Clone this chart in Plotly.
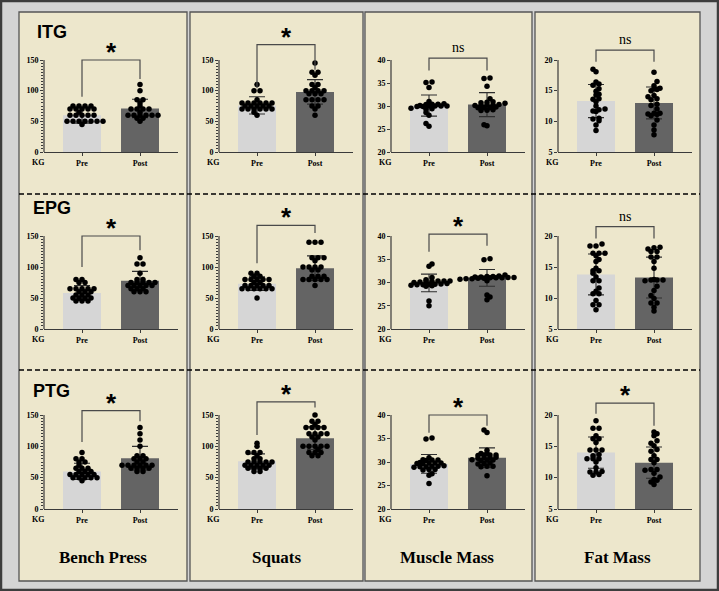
import numpy as np
import plotly.graph_objects as go

GROUPS = ["ITG", "EPG", "PTG"]
MEASURES = ["Bench Press", "Squats", "Muscle Mass", "Fat Mass"]
CONDITIONS = ["Pre", "Post"]

BENCH_TICKS = [0, 50, 100, 150]
SQUAT_TICKS = [0, 50, 100, 150]
MUSCLE_TICKS = [20, 25, 30, 35, 40]
FAT_TICKS = [5, 10, 15, 20]

# ---- individual values (kg) ----
ITG_BENCH_PRE = [75, 75, 75, 75, 70, 70, 70, 70, 70, 65, 60, 60, 60, 60, 60, 50, 50, 50, 50, 50, 50, 50, 45]
ITG_BENCH_POST = [110, 100, 85, 85, 80, 75, 70, 70, 70, 70, 65, 60, 60, 60, 60, 60, 60, 55, 55, 50]
ITG_SQUAT_PRE = [110, 100, 100, 85, 80, 80, 80, 80, 80, 80, 75, 75, 75, 75, 75, 70, 70, 70, 70, 70, 70, 65, 60]
ITG_SQUAT_POST = [145, 130, 130, 125, 110, 110, 105, 100, 100, 100, 100, 95, 95, 95, 85, 85, 85, 85, 75, 75, 70, 60]
ITG_MUSCLE_PRE = [35.2, 35.1, 34.0, 31.0, 30.5, 30.4, 30.4, 30.3, 30.1, 30.0, 30.0, 30.0, 30.0, 29.9, 29.9, 29.5, 29.4, 29.3, 28.6, 28.0, 26.2, 25.6]
ITG_MUSCLE_POST = [36.1, 36.0, 34.3, 31.6, 30.9, 30.8, 30.7, 30.6, 30.3, 30.2, 30.2, 30.1, 30.1, 29.8, 29.7, 29.7, 29.6, 29.2, 29.1, 29.0, 25.9, 25.7]
ITG_FAT_PRE = [18.5, 18.1, 16.4, 16.1, 15.9, 15.3, 14.9, 14.4, 14.3, 13.7, 13.6, 13.2, 12.5, 12.0, 11.9, 11.7, 11.6, 10.5, 10.4, 10.1, 9.4, 8.5]
ITG_FAT_POST = [18.0, 16.5, 15.8, 15.4, 15.3, 15.2, 15.0, 14.2, 14.0, 13.7, 13.5, 12.8, 12.6, 12.0, 11.3, 11.3, 11.2, 11.1, 10.9, 10.2, 9.4, 8.6, 7.8]

EPG_BENCH_PRE = [80, 80, 75, 75, 65, 65, 65, 65, 65, 60, 60, 60, 55, 55, 55, 50, 50, 50, 50, 45, 45, 45]
EPG_BENCH_POST = [115, 105, 105, 90, 80, 80, 75, 75, 75, 75, 75, 70, 70, 70, 70, 70, 65, 65, 65, 60, 60, 60]
EPG_SQUAT_PRE = [90, 90, 85, 85, 80, 80, 80, 80, 80, 75, 75, 70, 70, 70, 70, 70, 65, 65, 65, 65, 65, 65, 50]
EPG_SQUAT_POST = [140, 140, 140, 115, 115, 115, 110, 100, 100, 100, 100, 95, 95, 85, 85, 85, 80, 80, 80, 80, 80, 70]
EPG_MUSCLE_PRE = [34.0, 33.5, 31.1, 30.6, 30.3, 30.3, 30.3, 30.2, 30.2, 30.1, 30.0, 29.8, 29.7, 29.6, 29.6, 29.5, 29.5, 29.4, 29.3, 29.2, 26.0, 25.0]
EPG_MUSCLE_POST = [35.1, 34.9, 31.6, 31.4, 31.3, 31.3, 31.2, 31.2, 31.1, 31.1, 31.0, 31.0, 31.0, 30.9, 30.9, 30.8, 30.8, 30.7, 30.4, 27.3, 26.9, 26.3]
EPG_FAT_PRE = [18.7, 18.4, 18.4, 17.2, 17.2, 17.2, 16.8, 16.2, 15.9, 14.8, 14.4, 14.4, 14.0, 13.4, 12.8, 12.8, 11.6, 11.1, 10.7, 10.7, 9.6, 8.9, 8.9, 8.1]
EPG_FAT_POST = [18.2, 18.1, 17.9, 17.5, 17.5, 16.6, 16.6, 15.9, 14.8, 13.0, 12.9, 12.9, 12.9, 12.8, 11.9, 11.2, 10.4, 9.9, 9.2, 9.2, 8.5, 7.9]

PTG_BENCH_PRE = [90, 80, 80, 75, 75, 70, 65, 65, 65, 60, 60, 60, 55, 55, 55, 55, 55, 50, 50, 50, 50, 50, 45]
PTG_BENCH_POST = [130, 120, 110, 100, 85, 85, 80, 80, 80, 75, 75, 70, 70, 70, 70, 70, 70, 65, 65, 65, 65, 60, 60]
PTG_SQUAT_PRE = [105, 100, 90, 90, 90, 85, 80, 80, 75, 75, 75, 75, 75, 70, 70, 70, 70, 70, 65, 65, 65, 65, 60, 60]
PTG_SQUAT_POST = [150, 140, 140, 135, 130, 130, 130, 130, 120, 120, 120, 120, 115, 115, 110, 100, 100, 100, 100, 100, 95, 90, 90, 90, 85, 85]
PTG_MUSCLE_PRE = [35.1, 34.9, 30.9, 30.5, 30.4, 30.4, 30.3, 29.9, 29.8, 29.8, 29.8, 29.7, 29.7, 29.2, 29.1, 29.1, 29.0, 29.0, 28.9, 28.4, 28.4, 28.3, 27.5, 27.2, 25.4]
PTG_MUSCLE_POST = [36.8, 36.3, 32.5, 31.8, 31.8, 31.5, 31.5, 31.5, 31.4, 31.0, 30.9, 30.9, 30.8, 30.5, 30.4, 30.4, 30.3, 29.8, 29.7, 29.6, 29.1, 29.1, 29.0, 27.1]
PTG_FAT_PRE = [19.1, 17.9, 17.9, 16.7, 16.2, 16.2, 15.6, 14.4, 14.4, 14.4, 13.7, 13.5, 13.0, 13.0, 13.0, 12.5, 11.6, 11.0, 10.9, 10.9, 10.5, 10.4]
PTG_FAT_POST = [17.3, 17.0, 16.7, 15.9, 15.5, 15.1, 14.5, 14.2, 13.5, 12.9, 12.9, 12.4, 11.3, 11.3, 11.2, 10.7, 10.1, 9.7, 9.6, 9.3, 8.9]

# ---- bar means and SD (per measure: bench, squats, muscle, fat) ----
ITG_MEAN_PRE = [60, 76, 30.1, 13.3]
ITG_MEAN_POST = [71, 98, 30.3, 13.0]
ITG_SD_PRE = [13, 14, 2.3, 2.7]
ITG_SD_POST = [15, 20, 2.6, 2.6]
EPG_MEAN_PRE = [58, 73, 29.9, 13.8]
EPG_MEAN_POST = [78, 98, 31.0, 13.3]
EPG_SD_PRE = [12, 11, 1.9, 3.3]
EPG_SD_POST = [15, 20, 1.8, 3.3]
PTG_MEAN_PRE = [60, 76, 29.6, 14.0]
PTG_MEAN_POST = [81, 113, 30.9, 12.4]
PTG_SD_PRE = [13, 12, 2.0, 2.5]
PTG_SD_POST = [19, 18, 2.1, 2.5]

ITG_SIG = ["*", "*", "ns", "ns"]
EPG_SIG = ["*", "*", "*", "ns"]
PTG_SIG = ["*", "*", "*", "*"]

# bracket levels (top, left leg end, right leg end)
ITG_BRACKETS = [(150, 90, 119), (175, 104, 134), (40.4, 37.7, 37.7), (21.6, 19.7, 19.7)]
EPG_BRACKETS = [(150, 100, 127), (167, 106, 155), (40.4, 36.6, 37.9), (21.5, 19.6, 19.6)]
PTG_BRACKETS = [(157, 107, 140), (171, 118, 162), (40.0, 36.2, 37.7), (21.9, 20.2, 18.3)]

TICKS = [BENCH_TICKS, SQUAT_TICKS, MUSCLE_TICKS, FAT_TICKS]
DATA = {
    "ITG": dict(pre=[ITG_BENCH_PRE, ITG_SQUAT_PRE, ITG_MUSCLE_PRE, ITG_FAT_PRE],
                post=[ITG_BENCH_POST, ITG_SQUAT_POST, ITG_MUSCLE_POST, ITG_FAT_POST],
                mpre=ITG_MEAN_PRE, mpost=ITG_MEAN_POST, spre=ITG_SD_PRE, spost=ITG_SD_POST,
                sig=ITG_SIG, br=ITG_BRACKETS),
    "EPG": dict(pre=[EPG_BENCH_PRE, EPG_SQUAT_PRE, EPG_MUSCLE_PRE, EPG_FAT_PRE],
                post=[EPG_BENCH_POST, EPG_SQUAT_POST, EPG_MUSCLE_POST, EPG_FAT_POST],
                mpre=EPG_MEAN_PRE, mpost=EPG_MEAN_POST, spre=EPG_SD_PRE, spost=EPG_SD_POST,
                sig=EPG_SIG, br=EPG_BRACKETS),
    "PTG": dict(pre=[PTG_BENCH_PRE, PTG_SQUAT_PRE, PTG_MUSCLE_PRE, PTG_FAT_PRE],
                post=[PTG_BENCH_POST, PTG_SQUAT_POST, PTG_MUSCLE_POST, PTG_FAT_POST],
                mpre=PTG_MEAN_PRE, mpost=PTG_MEAN_POST, spre=PTG_SD_PRE, spost=PTG_SD_POST,
                sig=PTG_SIG, br=PTG_BRACKETS),
}

# ---- layout geometry (reference pixels on a 719x591 canvas) ----
W, H = 719, 591
FIG_H = 596
COL_X = [(44, 178), (219, 353), (391, 525), (558, 692)]
ROW_Y = [(152, 60), (329, 236), (509, 415)]
EXTRA = 30
XR = [-0.655, 1.655]
BOXES = [(19, 187), (190, 363), (365, 532), (535, 700)]
BOX_Y = (12, 581)
DASH_Y = [194, 370]
ROW_LABEL_POS = [(35, 32), (31, 208), (31, 391)]
COL_TITLE_X = [103, 277, 447, 617]
COL_TITLE_Y = 557

AX = "#3a3a3a"
SERIF = "Liberation Serif, Times New Roman, serif"
SANS = "Liberation Sans, Arial, sans-serif"


def px(x):
    return x / W


def py(y):
    return 1 - y / H


def dot_offsets(values, ppx, ppy, row_h=2.8, step=6.0):
    """Scatter-dot-plot layout: bin values into rows, centre each row horizontally."""
    vals = np.asarray(values, dtype=float)
    bins = np.round(vals * ppy / row_h).astype(int)
    out = np.zeros(len(vals))
    shifted = {}
    for k in sorted(set(bins.tolist())):
        idx = [i for i in np.argsort(vals, kind="stable") if bins[i] == k]
        n = len(idx)
        shift = 0.0
        prev = k - 1
        if prev in shifted:
            pn, psh = shifted[prev]
            if pn % 2 == n % 2 and psh == 0.0:
                shift = step / 2 * (1 if k % 2 else -1)
        shifted[k] = (n, shift)
        for j, i in enumerate(idx):
            out[i] = ((j - (n - 1) / 2) * step + shift) / ppx
    return out


fig = go.Figure()
shapes = []
annotations = []
layout = {}

# outer frame and boxes
shapes.append(dict(type="rect", xref="paper", yref="paper", x0=px(1), x1=px(718), y0=py(590), y1=py(1),
                   line=dict(color="#3d3d3d", width=2.5), fillcolor="rgba(0,0,0,0)", layer="below"))
for bx0, bx1 in BOXES:
    shapes.append(dict(type="rect", xref="paper", yref="paper", x0=px(bx0), x1=px(bx1),
                       y0=py(BOX_Y[1]), y1=py(BOX_Y[0]), fillcolor="#ede7cc",
                       line=dict(color="#555555", width=1.3), layer="below"))
for dy in DASH_Y:
    shapes.append(dict(type="line", xref="paper", yref="paper", x0=px(BOXES[0][0]), x1=px(BOXES[-1][1]),
                       y0=py(dy), y1=py(dy), line=dict(color="black", width=1.4, dash="5px,3px"), layer="above"))

for r, grp in enumerate(GROUPS):
    d = DATA[grp]
    for c, meas in enumerate(MEASURES):
        i = r * 4 + c + 1
        xa = "x" if i == 1 else f"x{i}"
        ya = "y" if i == 1 else f"y{i}"
        xk = "xaxis" if i == 1 else f"xaxis{i}"
        yk = "yaxis" if i == 1 else f"yaxis{i}"
        ticks = TICKS[c]
        vmin, vmax = ticks[0], ticks[-1]
        b, t = ROW_Y[r]
        ppy = (b - t) / (vmax - vmin)
        vtop = vmax + EXTRA / ppy
        x0, x1 = COL_X[c]
        ppx = (x1 - x0) / (XR[1] - XR[0])

        layout[xk] = dict(domain=[px(x0), px(x1)], anchor=ya, range=XR, showgrid=False, zeroline=False,
                          showline=True, linecolor=AX, linewidth=1.2, ticks="outside", ticklen=3,
                          tickcolor=AX, tickwidth=1, tickvals=[0, 1], ticktext=CONDITIONS,
                          tickfont=dict(family=SERIF, size=8, color="black", weight="bold"), fixedrange=True)
        ydict = dict(domain=[py(b), py(t - EXTRA)], anchor=xa, range=[vmin, vtop], showgrid=False,
                     zeroline=False, showline=False, ticks="outside", ticklen=3, tickcolor=AX, tickwidth=1,
                     tickvals=ticks, tickfont=dict(family=SERIF, size=8, color="black", weight="bold"),
                     fixedrange=True)
        if c < 2:
            ydict["minor"] = dict(tickmode="array", tickvals=list(range(vmin, vmax + 1, 5)), ticks="outside",
                                  ticklen=2, tickcolor=AX, tickwidth=0.8)
        layout[yk] = ydict

        # y axis line (vmin..vmax)
        shapes.append(dict(type="line", xref=f"{xa} domain", yref=ya, x0=0, x1=0, y0=vmin, y1=vmax,
                           line=dict(color=AX, width=1.2), layer="above"))

        fig.add_trace(go.Bar(x=[0, 1], y=[d["mpre"][c], d["mpost"][c]], width=0.655, xaxis=xa, yaxis=ya,
                             marker=dict(color=["#d6d6d6", "#646464"], line=dict(width=0)),
                             error_y=dict(type="data", array=[d["spre"][c], d["spost"][c]], color="#2e2e2e",
                                          thickness=1.1, width=8),
                             showlegend=False, hoverinfo="skip"))
        for k, key in enumerate(["pre", "post"]):
            vals = d[key][c]
            offs = dot_offsets([v - vmin for v in vals], ppx, ppy)
            fig.add_trace(go.Scatter(x=k + offs, y=vals, mode="markers", xaxis=xa, yaxis=ya,
                                     marker=dict(size=5.5, color="black", line=dict(width=0)),
                                     cliponaxis=False, showlegend=False, hoverinfo="skip"))

        top, yl, yr = d["br"][c]
        shapes.append(dict(type="path", xref=xa, yref=ya,
                           path=f"M 0,{yl} L 0,{top} L 1,{top} L 1,{yr}",
                           line=dict(color="#4a4a4a", width=1.2), layer="above"))
        sig = d["sig"][c]
        if sig == "*":
            annotations.append(dict(x=0.5, y=top, xref=xa, yref=ya, text="*", showarrow=False,
                                    yanchor="bottom", yshift=-9,
                                    font=dict(family=SANS, size=26, color="black", weight="bold")))
        else:
            annotations.append(dict(x=0.5, y=top, xref=xa, yref=ya, text="ns", showarrow=False,
                                    yanchor="bottom", yshift=1,
                                    font=dict(family=SERIF, size=14, color="black")))
        annotations.append(dict(x=0, y=0, xref=f"{xa} domain", yref=f"{ya} domain", text="KG",
                                showarrow=False, xanchor="right", yanchor="middle", xshift=2, yshift=-10,
                                font=dict(family=SERIF, size=8, color="black", weight="bold")))

    lx, ly = ROW_LABEL_POS[r]
    annotations.append(dict(x=px(lx), y=py(ly), xref="paper", yref="paper", text=grp, showarrow=False,
                            xanchor="left", yanchor="middle",
                            font=dict(family=SANS, size=18, color="black", weight="bold")))

for c, meas in enumerate(MEASURES):
    annotations.append(dict(x=px(COL_TITLE_X[c]), y=py(COL_TITLE_Y), xref="paper", yref="paper", text=meas,
                            showarrow=False, xanchor="center", yanchor="middle",
                            font=dict(family=SERIF, size=17, color="black", weight="bold")))

fig.update_layout(width=W, height=FIG_H, margin=dict(l=0, r=0, t=0, b=0), paper_bgcolor="#d4d4d4",
                  plot_bgcolor="rgba(0,0,0,0)", shapes=shapes, annotations=annotations, barmode="overlay",
                  showlegend=False, **layout)

fig.write_html("out.html", config={"displayModeBar": False},
               post_script="document.body.style.margin='0';document.body.style.overflow='hidden';")
